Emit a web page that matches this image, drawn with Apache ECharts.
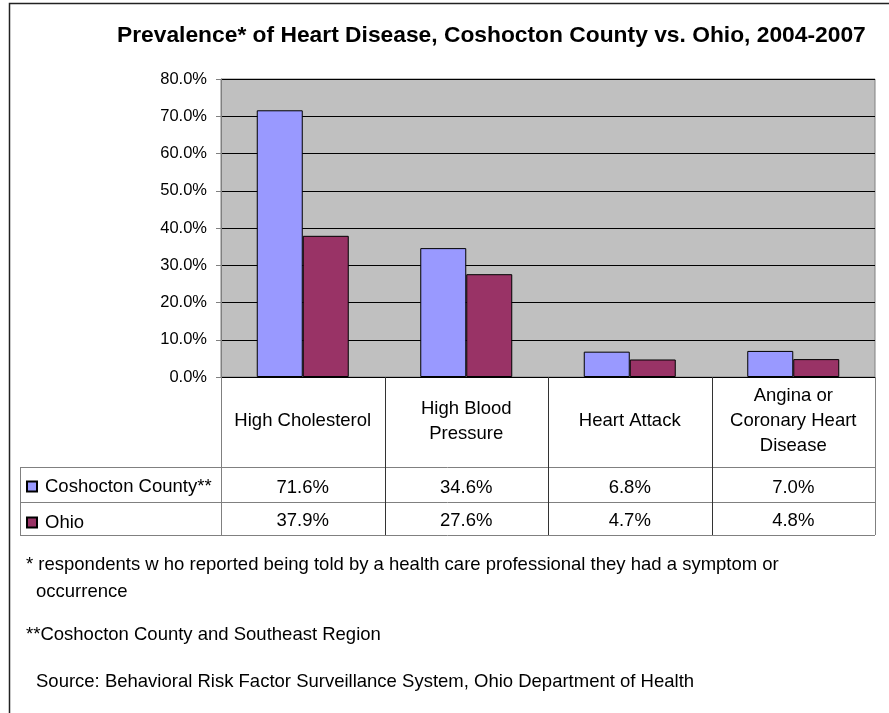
<!DOCTYPE html>
<html>
<head>
<meta charset="utf-8">
<script src="https://cdn.jsdelivr.net/npm/echarts@6/dist/echarts.min.js"></script>
<style>
html,body{margin:0;padding:0;background:#fff;}
#chart{width:889px;height:713px;}
</style>
</head>
<body>
<div id="chart"></div>
<script>
var categories = ['High Cholesterol', 'High Blood\nPressure', 'Heart Attack', 'Angina or\nCoronary Heart\nDisease'];
var seriesNames = ['Coshocton County**', 'Ohio'];
var coshocton = [71.6, 34.6, 6.8, 7.0];
var ohio = [37.9, 27.6, 4.7, 4.8];
var yTicks = [0, 10, 20, 30, 40, 50, 60, 70, 80];
var titleText = 'Prevalence* of Heart Disease, Coshocton County vs. Ohio, 2004-2007';
var footnotes = [
  '* respondents w ho reported being told by a health care professional they had a symptom or',
  'occurrence',
  '**Coshocton County and Southeast Region',
  'Source: Behavioral Risk Factor Surveillance System, Ohio Department of Health'
];

var FONT = 'Liberation Sans, Arial, sans-serif';
var TFS = 18.5;
var GL = 221, GR = 875, GT = 79, GB = 377;
var ROW0 = 467, ROW1 = 502, ROW2 = 535, TL = 20;
var W = 889, H = 713;

var chart = echarts.init(document.getElementById('chart'), null, {renderer: 'canvas'});

function fmt(v) { return v.toFixed(1) + '%'; }

var catW = (GR - GL) / categories.length;
var graphics = [];
graphics.push({type: 'rect', shape: {x: 9.5, y: 3.5, width: 900, height: 800}, style: {fill: 'none', stroke: '#222', lineWidth: 1.5}, silent: true, z: 100});
function hline(y, x1, x2, c) { graphics.push({type: 'line', shape: {x1: x1, y1: y, x2: x2, y2: y}, style: {stroke: c, lineWidth: 1}, z: 50}); }
function vline(x, y1, y2, c) { graphics.push({type: 'line', shape: {x1: x, y1: y1, x2: x, y2: y2}, style: {stroke: c, lineWidth: 1}, z: 50}); }
hline(ROW0 + 0.5, TL, GR, '#808080');
hline(ROW1 + 0.5, TL, GR, '#808080');
hline(ROW2 + 0.5, TL, GR, '#808080');
vline(TL + 0.5, ROW0, ROW2, '#808080');
vline(GL + 0.5, GB, ROW2, '#808080');
for (var i = 1; i < categories.length; i++) {
  vline(Math.round(GL + catW * i) + 0.5, GB, ROW2, '#333');
}
vline(GR + 0.5, GB, ROW2, '#808080');
var fnPos = [[26, 563], [36, 590], [26, 633], [36, 680]];
footnotes.forEach(function (t, k) {
  graphics.push({type: 'text', left: fnPos[k][0], top: fnPos[k][1] - 8, style: {text: t, fill: '#000', font: TFS + 'px ' + FONT}});
});

function rowAxis(vals, margin) {
  return {
    type: 'category', gridIndex: 0, position: 'bottom',
    data: categories,
    axisLine: {show: false}, axisTick: {show: false}, splitLine: {show: false},
    axisLabel: {
      interval: 0, margin: margin, verticalAlign: 'middle',
      color: '#000', fontFamily: FONT, fontSize: TFS,
      formatter: function (v, idx) { return fmt(vals[idx]); }
    }
  };
}

var option = {
  backgroundColor: '#ffffff',
  animation: false,
  title: {
    text: titleText, left: 117, top: 24, padding: 0,
    textStyle: {fontFamily: FONT, fontSize: 22.8, fontWeight: 'bold', color: '#000'}
  },
  legend: {
    orient: 'vertical', left: 26, top: 477, padding: 0,
    itemWidth: 10, itemHeight: 10, itemGap: 17,
    icon: 'rect',
    data: seriesNames,
    textStyle: {fontFamily: FONT, fontSize: TFS, color: '#000', lineHeight: 17, padding: [0, 0, 0, 3]}
  },
  grid: {
    left: GL, right: W - GR, top: GT, bottom: H - GB,
    show: true, backgroundColor: '#c0c0c0', borderColor: '#808080', borderWidth: 1
  },
  xAxis: [
    {
      type: 'category', data: categories, position: 'bottom',
      axisLine: {show: true, lineStyle: {color: '#000', width: 1}},
      axisTick: {show: false},
      axisLabel: {interval: 0, margin: 44, verticalAlign: 'middle', color: '#000', fontFamily: FONT, fontSize: TFS, lineHeight: 25, align: 'center'}
    },
    rowAxis(coshocton, 111),
    rowAxis(ohio, 144)
  ],
  yAxis: {
    type: 'value', min: 0, max: 80, interval: 10,
    axisLine: {show: true, lineStyle: {color: '#808080'}},
    axisTick: {show: true, length: 5, lineStyle: {color: '#808080'}},
    axisLabel: {margin: 14, color: '#000', fontFamily: FONT, fontSize: 16.5, formatter: function (v) { return fmt(v); }},
    splitLine: {show: true, lineStyle: {color: '#000', width: 1}}
  },
  series: [
    {
      name: seriesNames[0], type: 'bar', data: coshocton, xAxisIndex: 0,
      barWidth: 46, barGap: '0%',
      itemStyle: {color: '#9999ff', borderColor: '#000', borderWidth: 1}
    },
    {
      name: seriesNames[1], type: 'bar', data: ohio, xAxisIndex: 0,
      barWidth: 46, barGap: '0%',
      itemStyle: {color: '#993366', borderColor: '#000', borderWidth: 1}
    }
  ],
  graphic: graphics
};
chart.setOption(option);
</script>
</body>
</html>
